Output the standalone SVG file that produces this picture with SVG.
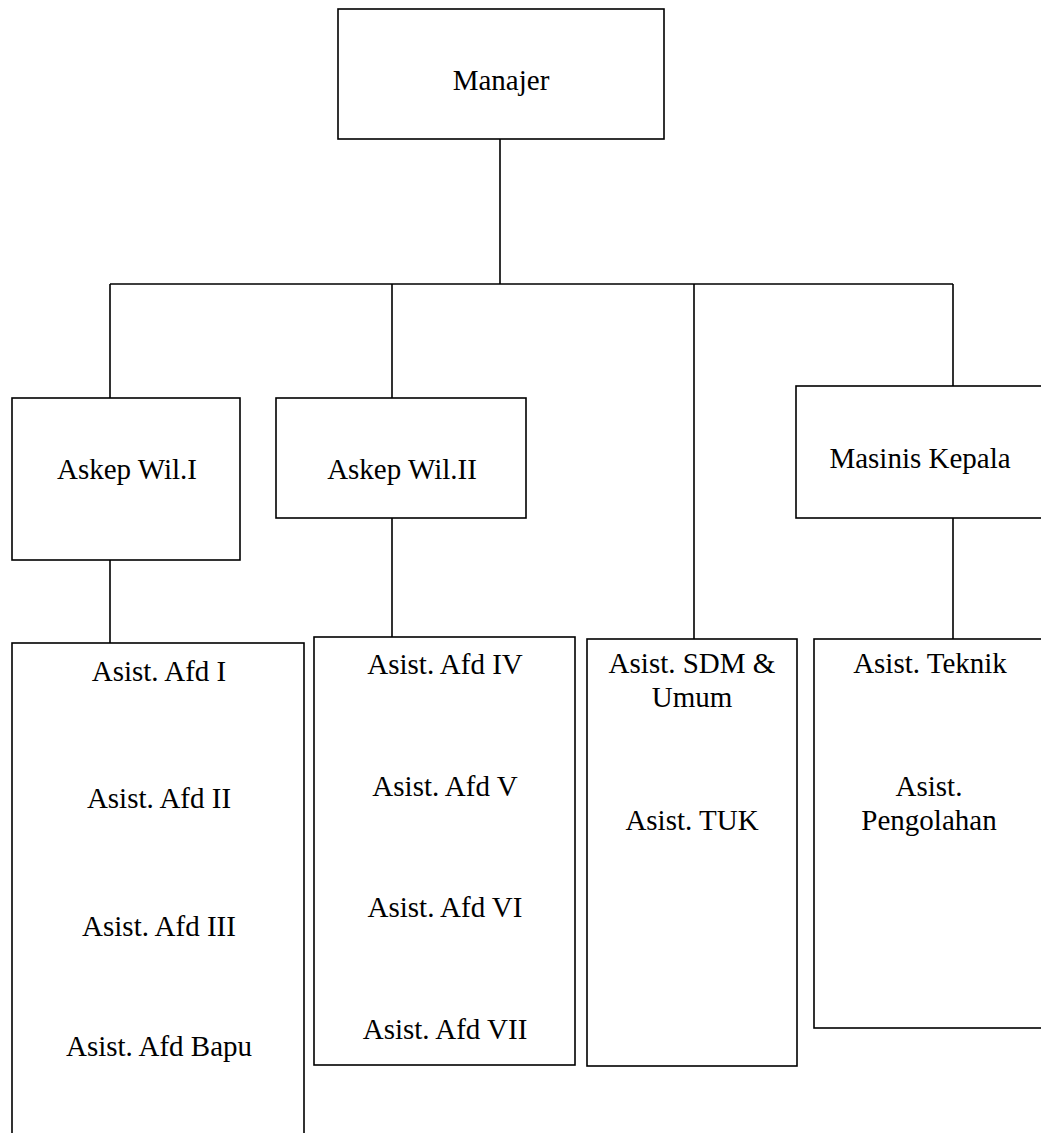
<svg xmlns="http://www.w3.org/2000/svg" width="1041" height="1133" viewBox="0 0 1041 1133">
<style>
.box{fill:#fff;stroke:#000;stroke-width:1.6}
.ln{fill:none;stroke:#000;stroke-width:1.6}
text{font-family:"Liberation Serif","Times New Roman",serif;font-size:29px;fill:#000;text-anchor:middle}
</style>
<rect width="1041" height="1133" fill="#fff"/>
<g id="connectors">
<path class="ln" d="M500 139V284M110 284H953M110 284V398M392 284V398M694 284V639M953 284V386M110 560V643M392 518V637M953 518V639"/>
</g>
<g id="manajer"><rect class="box" x="338" y="9" width="326" height="130"/><text x="501" y="90">Manajer</text></g>
<g id="askep1"><rect class="box" x="12" y="398" width="228" height="162"/><text x="127" y="479">Askep Wil.I</text></g>
<g id="askep2"><rect class="box" x="276" y="398" width="250" height="120"/><text x="402" y="479">Askep Wil.II</text></g>
<g id="masinis"><rect class="box" x="796" y="386" width="260" height="132"/><text x="920" y="468">Masinis Kepala</text></g>
<g id="afd1"><rect class="box" x="12" y="643" width="292" height="510"/>
<text x="159" y="681">Asist. Afd I</text>
<text x="159" y="808">Asist. Afd II</text>
<text x="159" y="936">Asist. Afd III</text>
<text x="159" y="1056">Asist. Afd Bapu</text></g>
<g id="afd4"><rect class="box" x="314" y="637" width="261" height="428"/>
<text x="445" y="674">Asist. Afd IV</text>
<text x="445" y="796">Asist. Afd V</text>
<text x="445" y="917">Asist. Afd VI</text>
<text x="445" y="1039">Asist. Afd VII</text></g>
<g id="sdm"><rect class="box" x="587" y="639" width="210" height="427"/>
<text x="692" y="673">Asist. SDM &amp;</text>
<text x="692" y="707">Umum</text>
<text x="692" y="830">Asist. TUK</text></g>
<g id="teknik"><rect class="box" x="814" y="639" width="240" height="389"/>
<text x="930" y="673">Asist. Teknik</text>
<text x="929" y="796">Asist.</text>
<text x="929" y="830">Pengolahan</text></g>
</svg>
